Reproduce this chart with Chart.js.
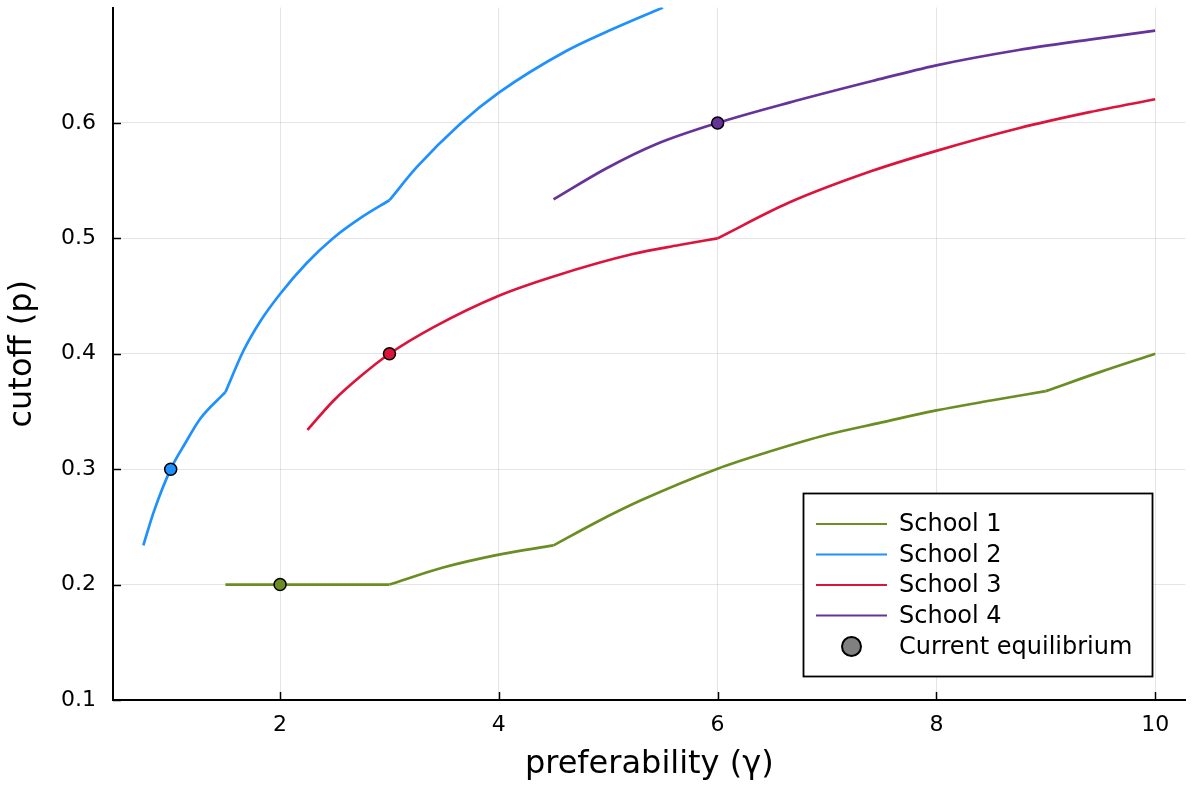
<!DOCTYPE html>
<html><head><meta charset="utf-8">
<script src="https://cdn.jsdelivr.net/npm/chart.js@4.4.1/dist/chart.umd.min.js"></script>
<style>html,body{margin:0;padding:0;background:#fff;}</style>
</head><body>
<canvas id="c" width="1193" height="785" style="display:block;width:1193px;height:785px"></canvas>
<script>
// ---- data ----
const seriesNames = ['School 1', 'School 2', 'School 3', 'School 4'];
const seriesColors = ['#6B8E23', '#1E90FF', '#DC143C', '#663399'];

const school1X = [1.5, 2.0, 2.5, 3.0, 3.49, 4.0, 4.5, 4.9, 5.3, 6.0, 6.46, 7.0, 7.5, 8.0, 8.5, 9.0, 9.5, 10.0];
const school1Y = [0.2, 0.2, 0.2, 0.2, 0.2148, 0.226, 0.234, 0.2545, 0.273, 0.3004, 0.3148, 0.3298, 0.3405, 0.3509, 0.3595, 0.3676, 0.3843, 0.4];
const school1Kinks = [3.0, 4.5, 9.0];

const school2X = [0.75, 0.845, 1.0, 1.13, 1.27, 1.5, 1.666, 1.818, 2.0, 2.244, 2.487, 2.75, 3.0, 3.247, 3.643, 4.0, 4.616, 5.0, 5.5];
const school2Y = [0.234, 0.263, 0.3, 0.322, 0.3437, 0.3667, 0.4028, 0.428, 0.4518, 0.4786, 0.5003, 0.5185, 0.533, 0.5614, 0.5989, 0.6262, 0.6623, 0.6796, 0.7];
const school2Kinks = [1.5, 3.0];

const school3X = [2.25, 2.49, 2.73, 3.0, 3.4, 4.0, 4.5, 5.224, 5.65, 6.0, 6.654, 7.414, 8.0, 8.752, 9.4, 10.0];
const school3Y = [0.334, 0.3595, 0.38, 0.4, 0.4229, 0.4503, 0.467, 0.4864, 0.4942, 0.5, 0.531, 0.5585, 0.5758, 0.5954, 0.6093, 0.6205];
const school3Kinks = [6.0];

const school4X = [4.5, 4.981, 5.437, 6.0, 6.654, 7.414, 8.0, 8.752, 9.4, 10.0];
const school4Y = [0.5337, 0.5605, 0.5815, 0.6, 0.6176, 0.6363, 0.6499, 0.6632, 0.6722, 0.68];
const school4Kinks = [];

const eqLabel = 'Current equilibrium';
const eqX = [2, 1, 3, 6];
const eqY = [0.2, 0.3, 0.4, 0.6];

const xTicks = [2, 4, 6, 8, 10];
const yTicks = [0.1, 0.2, 0.3, 0.4, 0.5, 0.6];
const xTitle = 'preferability (γ)';
const yTitle = 'cutoff (p)';

// ---- build ----
const FONT = "'DejaVu Sans', sans-serif";
const seriesX = [school1X, school2X, school3X, school4X];
const seriesY = [school1Y, school2Y, school3Y, school4Y];
const seriesKinks = [school1Kinks, school2Kinks, school3Kinks, school4Kinks];

// split a curve into smooth pieces at its kinks (kink point shared by both pieces)
function pieces(xs, ys, kinks) {
  const out = [];
  let cur = [];
  xs.forEach((x, i) => {
    cur.push({x, y: ys[i]});
    if (kinks.includes(x) && i > 0 && i < xs.length - 1) {
      out.push(cur);
      cur = [{x, y: ys[i]}];
    }
  });
  out.push(cur);
  return out;
}

const datasets = [];
seriesNames.forEach((n, i) => {
  pieces(seriesX[i], seriesY[i], seriesKinks[i]).forEach(p => {
    datasets.push({
      type: 'line',
      label: n,
      data: p,
      borderColor: seriesColors[i],
      backgroundColor: seriesColors[i],
      borderWidth: 2.7,
      pointRadius: 0,
      cubicInterpolationMode: 'monotone',
      borderCapStyle: 'butt',
      borderJoinStyle: 'round',
      fill: false,
      order: 1
    });
  });
});
datasets.push({
  type: 'scatter',
  label: eqLabel,
  data: eqX.map((x, i) => ({x, y: eqY[i]})),
  pointRadius: 6,
  pointBorderWidth: 1.5,
  pointBorderColor: '#000',
  pointBackgroundColor: seriesColors,
  showLine: false,
  order: 0
});

const extras = {
  id: 'extras',
  afterDraw(chart) {
    const {ctx, chartArea: a, scales: {x, y}} = chart;
    ctx.save();
    ctx.strokeStyle = '#000';
    ctx.lineWidth = 1.5;
    xTicks.forEach(v => {
      const px = Math.round(x.getPixelForValue(v)) + 0.5;
      ctx.beginPath(); ctx.moveTo(px, a.bottom); ctx.lineTo(px, a.bottom - 8); ctx.stroke();
    });
    yTicks.forEach(v => {
      const py = Math.round(y.getPixelForValue(v)) + 0.5;
      ctx.beginPath(); ctx.moveTo(a.left, py); ctx.lineTo(a.left + 8, py); ctx.stroke();
    });
    // legend
    const L = 803.5, T = 493.5, R = 1152.5, B = 676.5;
    ctx.fillStyle = '#fff';
    ctx.fillRect(L, T, R - L, B - T);
    ctx.lineWidth = 1.8;
    ctx.strokeStyle = '#000';
    ctx.strokeRect(L, T, R - L, B - T);
    const rows = [524, 554.5, 585, 615.5, 646.5];
    ctx.font = "24px " + FONT;
    ctx.textBaseline = 'middle';
    ctx.textAlign = 'left';
    seriesNames.forEach((n, i) => {
      ctx.strokeStyle = seriesColors[i];
      ctx.lineWidth = 2.2;
      ctx.beginPath(); ctx.moveTo(816, rows[i]); ctx.lineTo(887, rows[i]); ctx.stroke();
      ctx.fillStyle = '#000';
      ctx.fillText(n, 899, rows[i] + 1);
    });
    ctx.beginPath();
    ctx.arc(851.5, rows[4], 9.5, 0, Math.PI * 2);
    ctx.fillStyle = '#808080'; ctx.fill();
    ctx.lineWidth = 2; ctx.strokeStyle = '#000'; ctx.stroke();
    ctx.fillStyle = '#000';
    ctx.fillText(eqLabel, 899, rows[4] + 1);
    ctx.restore();
  }
};

new Chart(document.getElementById('c'), {
  data: {datasets},
  options: {
    responsive: false,
    animation: false,
    devicePixelRatio: 1,
    layout: {padding: {left: 0, right: 2, top: 7, bottom: 0}},
    plugins: {legend: {display: false}, tooltip: {enabled: false}},
    scales: {
      x: {
        type: 'linear',
        min: 0.4725, max: 10.2775,
        afterBuildTicks: s => { s.ticks = xTicks.map(v => ({value: v})); },
        afterFit: s => { s.height = 85; s.paddingLeft = 0; s.paddingRight = 0; },
        grid: {color: 'rgba(0,0,0,0.1)', lineWidth: 1, drawTicks: false},
        border: {display: true, color: '#000', width: 2},
        ticks: {color: '#000', font: {family: FONT, size: 22}, padding: 12, maxRotation: 0,
                callback: v => String(v)},
        title: {display: true, text: xTitle, color: '#000',
                font: {family: FONT, size: 32, lineHeight: 1.2}, padding: {top: 0, bottom: 1}}
      },
      y: {
        type: 'linear',
        min: 0.1, max: 0.7,
        afterBuildTicks: s => { s.ticks = yTicks.map(v => ({value: v})); },
        afterFit: s => { s.width = 113; s.paddingTop = 0; s.paddingBottom = 0; },
        grid: {color: 'rgba(0,0,0,0.1)', lineWidth: 1, drawTicks: false},
        border: {display: true, color: '#000', width: 2},
        ticks: {color: '#000', font: {family: FONT, size: 22}, padding: 17,
                callback: v => v.toFixed(1)},
        title: {display: true, text: yTitle, color: '#000',
                font: {family: FONT, size: 32, lineHeight: 1.2}, padding: {top: 3, bottom: 0}}
      }
    }
  },
  plugins: [extras]
});
</script>
</body></html>
